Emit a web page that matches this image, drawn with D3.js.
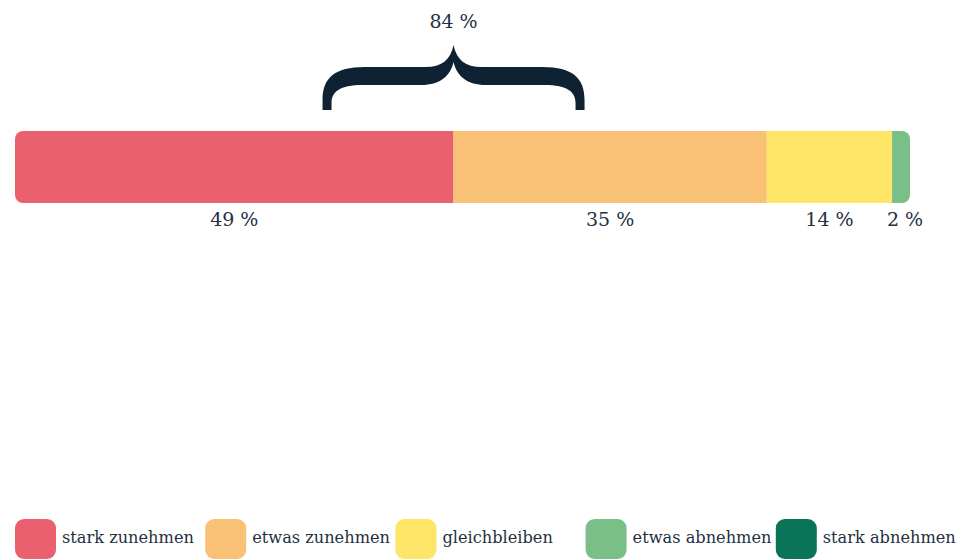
<!DOCTYPE html>
<html><head><meta charset="utf-8">
<script src="https://cdn.jsdelivr.net/npm/d3@7"></script>
<style>
html,body{margin:0;padding:0;background:#fff;}
text{font-family:"DejaVu Serif",serif;fill:#24303f;}
</style></head><body>
<svg id="c" width="958" height="559"></svg>
<script>
const categories = ["stark zunehmen","etwas zunehmen","gleichbleiben","etwas abnehmen","stark abnehmen"];
const values = [49, 35, 14, 2, 0];
const colors = ["#eb606f","#f9c175","#fee567","#7abf87","#0b7358"];
const bracketLabel = "84 %";

const svg = d3.select("#c");
const x = d3.scaleLinear().domain([0, 100]).range([15, 910]);
const barY = 131, barH = 72, r = 8;

let cum = 0;
const segs = values.map((v, i) => { const s = {v, i, x0: cum, x1: cum + v}; cum += v; return s; });
const visible = segs.filter(s => s.v > 0);

svg.append("clipPath").attr("id","barclip").append("rect")
  .attr("x", x(0)).attr("y", barY).attr("width", x(100) - x(0)).attr("height", barH).attr("rx", r);

svg.append("g").attr("clip-path","url(#barclip)").selectAll("rect").data(visible).join("rect")
  .attr("x", d => x(d.x0)).attr("y", barY)
  .attr("width", d => x(d.x1) - x(d.x0)).attr("height", barH)
  .attr("fill", d => colors[d.i]);

svg.selectAll("text.val").data(visible).join("text").attr("class","val")
  .attr("x", d => { const c = (x(d.x0) + x(d.x1)) / 2; return d.v < 5 ? c + 4 : c; })
  .attr("y", 226).attr("text-anchor","middle").style("font-size","19px")
  .text(d => d.v + " %");

const cx = x(values[0]);
const hw = 131;
const L = cx - hw, R = cx + hw;
const p = `M ${L},110 L ${L},100 C ${L},78 ${L+12},67 ${L+42},67 L ${cx-28},67 C ${cx-12},67 ${cx-3},60 ${cx},45
 C ${cx+3},60 ${cx+12},67 ${cx+28},67 L ${R-42},67 C ${R-12},67 ${R},78 ${R},100 L ${R},110 L ${R-9},110 L ${R-9},103
 C ${R-9},92 ${R-17},85 ${R-40},85 L ${cx+32},85 C ${cx+14},85 ${cx+3},76 ${cx},62
 C ${cx-3},76 ${cx-14},85 ${cx-32},85 L ${L+40},85 C ${L+17},85 ${L+9},92 ${L+9},103 L ${L+9},110 Z`;
svg.append("path").attr("d", p).attr("fill", "#0f2233");
svg.append("text").attr("x", cx).attr("y", 28).attr("text-anchor","middle").style("font-size","19px").text(bracketLabel);

const lx = d3.scaleBand().domain(categories).range([15, 966]);
const lg = svg.selectAll("g.leg").data(categories).join("g").attr("class","leg")
  .attr("transform", d => `translate(${lx(d)},519)`);
lg.append("rect").attr("width", 41).attr("height", 40).attr("rx", 9).attr("fill", (d, i) => colors[i]);
lg.append("text").attr("x", 47).attr("y", 24).style("font-size","16.2px").text(d => d);
</script>
</body></html>
